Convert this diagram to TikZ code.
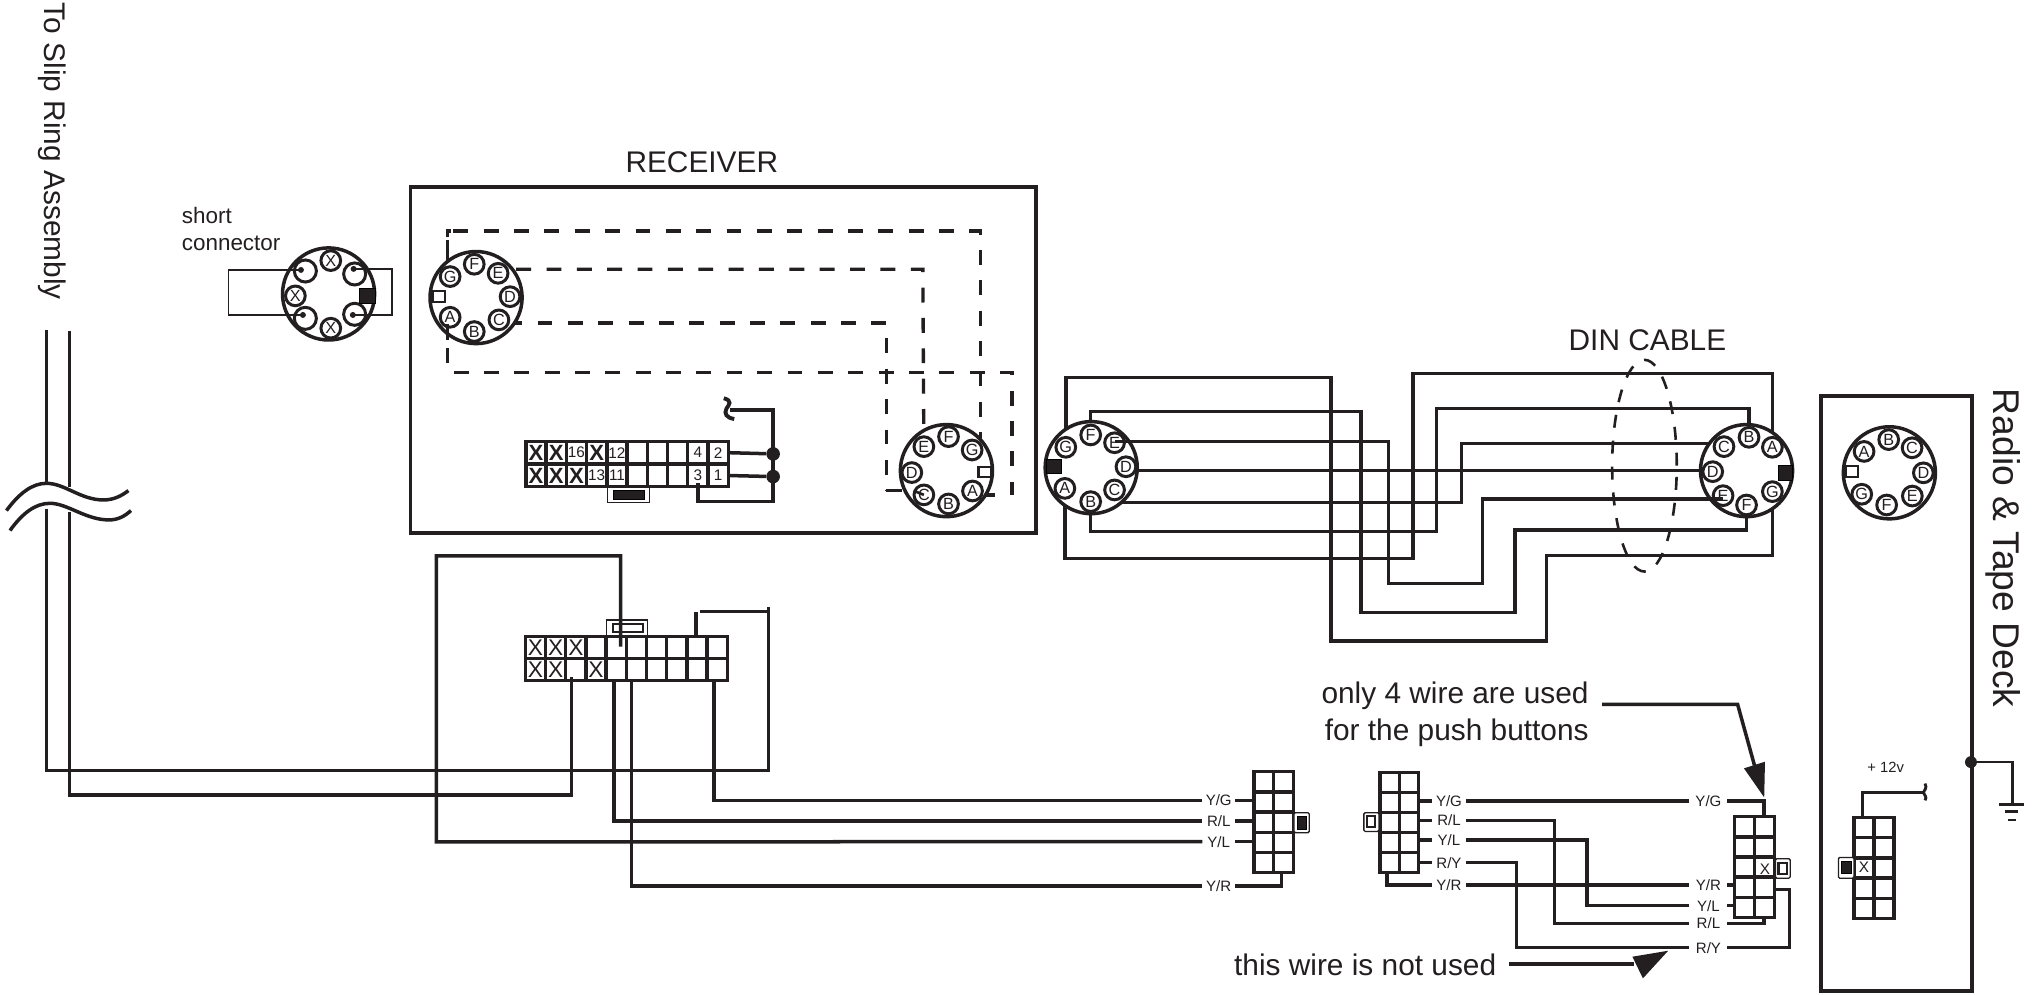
\documentclass[tikz,border=0pt]{standalone}
\usepackage{fontspec}
\setmainfont{Liberation Sans}
\usetikzlibrary{shapes.geometric,calc}
\pgfdeclarelayer{wires}
\pgfsetlayers{wires,main}
\definecolor{ink}{HTML}{231F20}
\newcommand{\fsz}[1]{\fontsize{#1}{#1}\selectfont}
\tikzset{
  wire/.style={draw=ink,line width=2.7pt,line join=miter},
  thinwire/.style={draw=ink,line width=1.2pt},
  dwire/.style={draw=ink,line width=2.6pt,dash pattern=on 11.5pt off 11.9pt},
  disc/.style={circle,draw=ink,fill=white,line width=2.7pt,minimum size=71pt,inner sep=0pt},
  pinnode/.style={circle,draw=ink,fill=white,line width=2.3pt,minimum size=15.2pt,inner sep=0pt,font=\fsz{12.5},text=ink},
  bigpin/.style={circle,draw=ink,fill=white,line width=2.3pt,minimum size=17pt,inner sep=0pt},
  dotnode/.style={circle,fill=ink,minimum size=4.6pt,inner sep=0pt},
  junction/.style={circle,fill=ink,minimum size=10.5pt,inner sep=0pt},
  gridnode/.style={rectangle,draw=ink,line width=2.6pt,inner sep=0pt},
  cellx/.style={inner sep=0pt,font=\fsz{17.5},text=ink},
  cellxb/.style={inner sep=0pt,font=\bfseries\fsz{17},text=ink},
  cellnum/.style={inner sep=0pt,font=\fsz{11.8},text=ink},
  wlabel/.style={inner sep=0pt,font=\fsz{11.6},text=ink,minimum height=8pt},
  bigtext/.style={inner sep=0pt,font=\fsz{23},text=ink},
  midtext/.style={inner sep=0pt,font=\fsz{17.3},text=ink},
  thinkey/.style={draw=ink,line width=1pt,fill=white},
  blackkey/.style={fill=ink},
  whitekey/.style={draw=ink,fill=white,line width=1.6pt},
  arrowfill/.style={fill=ink,draw=none},
}
\newcommand{\pinat}[4]{\node[pinnode] (#1) at (#2,#3) {#4};}
\newcommand{\gridbox}[7]{%
  \node[gridnode,minimum width={#4-#2},minimum height={#5-#3}] (#1) at ({(#2+#4)/2},{(#3+#5)/2}) {};
  \foreach \gi in {1,...,\numexpr#6-1\relax}
    \draw[draw=ink,line width=2.6pt] ({#2+(#4-#2)*\gi/#6},#3) -- ({#2+(#4-#2)*\gi/#6},#5);
  \foreach \gj in {1,...,\numexpr#7-1\relax}
    \draw[draw=ink,line width=2.6pt] (#2,{#3+(#5-#3)*\gj/#7}) -- (#4,{#3+(#5-#3)*\gj/#7});
}
\begin{document}
\begin{tikzpicture}[x=1pt,y=-1pt]
\useasboundingbox (0,0) rectangle (1568,767);

% ---- side texts
\node[bigtext,rotate=-90,anchor=base west] (slip) at (34.5,2) {To Slip Ring Assembly};
\node[inner sep=0pt,font=\fsz{28.7},text=ink,rotate=-90,anchor=base west] (radio) at (1537,299.5) {Radio \& Tape Deck};

% ---- slip ring wires with break
\coordinate (s1a) at (35.8,254.4); \coordinate (s1b) at (35.8,372.6);
\coordinate (s2a) at (53.7,254.8); \coordinate (s2b) at (53.7,375.5);
\coordinate (s1c) at (35.8,392);   \coordinate (s2c) at (53.7,395);
\draw[wire] (s1a) -- (s1b);
\draw[wire] (s2a) -- (s2b);
\draw[wire] (5,393.6) .. controls (15,380) and (25,372.6) .. (35.8,372.6) .. controls (50,372.6) and (62,385.4) .. (79.8,385.4) .. controls (88,385.4) and (94,382) .. (99,378.2);
\draw[wire] (7.7,409) .. controls (17,396) and (27,388) .. (38.5,388) .. controls (52,388) and (66,400.8) .. (84,400.8) .. controls (91,400.8) and (96,398) .. (101,393.6);

% ---- short connector
\node[midtext,anchor=base west] (short1) at (140,172) {short};
\node[midtext,anchor=base west] (short2) at (140,193) {connector};
\node[disc] (sD) at (253.3,226.6) {};
\node[bigpin] (sUL) at (235.4,208.9) {};
\node[bigpin] (sLL) at (235.4,245.4) {};
\node[bigpin] (sUR) at (273.4,211.2) {};
\node[bigpin] (sLR) at (273.4,242.3) {};
\pinat{sX1}{255}{200.9}{X}
\pinat{sX2}{227.7}{228.1}{X}
\pinat{sX3}{255}{253}{X}
\draw[blackkey] (276.7,222) rectangle (289,233.8);
\node[dotnode] (sd1) at (232,208.1) {};
\node[dotnode] (sd2) at (233.5,242.8) {};
\node[dotnode] (sd3) at (272.6,207.3) {};
\node[dotnode] (sd4) at (272,242.8) {};
\draw[thinwire] (sd1.center) -- (176.2,208.1) -- (176.2,242.8) -- (sd2.center);
\draw[thinwire] (sd3.center) -- (302.3,207.3) -- (302.3,242.8) -- (sd4.center);

% ---- receiver
\node[rectangle,draw=ink,line width=2.8pt,minimum width=482pt,minimum height=266.6pt,inner sep=0pt] (recv) at (557.5,277.7) {};
\node[inner sep=0pt,font=\fsz{23},text=ink] (recvt) at (541,125) {RECEIVER};

\node[disc] (aD) at (367,229.4) {};
\pinat{aG}{347}{213.2}{G}
\pinat{aF}{365.6}{203.7}{F}
\pinat{aE}{384}{210.7}{E}
\pinat{aD2}{393.2}{228.7}{D}
\pinat{aC}{384.6}{246.6}{C}
\pinat{aB}{365.6}{255.6}{B}
\pinat{aA}{347}{244.6}{A}
\draw[whitekey] (333.7,224) rectangle (342.8,232.5);

\node[disc] (bD) at (729.6,362.8) {};
\pinat{bF}{731.2}{336.6}{F}
\pinat{bG}{749.4}{346.9}{G}
\pinat{bE}{712.2}{344.3}{E}
\pinat{bD2}{702.9}{364.3}{D}
\pinat{bC}{712.2}{381.5}{C}
\pinat{bB}{731.2}{388.5}{B}
\pinat{bA}{749.7}{378.5}{A}
\draw[whitekey] (754.3,360) rectangle (764,368);

\begin{pgfonlayer}{wires}
\draw[dwire,dash phase=7.1pt] ([xshift=-2pt]aG.center) -- (345,178) -- (756,178) -- ([xshift=6.6pt]bG.center);
\draw[dwire,dash phase=23.1pt] ([xshift=-2pt]aA.center) -- (345,287) -- (780.2,287) -- (780.2,381.5);
\draw[dwire,dash phase=9.5pt] (aE.center |- 0,207.6) -- (711.4,207.6) -- (bE.center);
\draw[dwire,dash phase=17pt] (aC.center |- 0,249) -- (683.3,249) -- (683.3,378.2);
\end{pgfonlayer}
\draw[draw=ink,line width=2.6pt] (345,183) -- (345,178) -- (348,178);
\draw[draw=ink,line width=2.6pt] (345,194) -- (345,203);
\draw[draw=ink,line width=2.6pt] (345,250) -- (345,262);
\draw[draw=ink,line width=2.6pt] (683.3,378.2) -- (695,378.2);
\draw[draw=ink,line width=2pt] (706,379) -- (bC.center);
\draw[draw=ink,line width=2.6pt] (759.8,381.5) -- (766.7,381.5);

% upper multi pin
\gridbox{up}{405.4}{340.4}{561.4}{375.1}{10}{2}
\foreach \i/\t in {0/X,1/X,3/X}
  \node[cellxb] (upa\i) at ({413.2+15.6*\i},349) {\t};
\foreach \i/\t in {2/16,4/12,8/4,9/2}
  \node[cellnum] (upa\i) at ({413.2+15.6*\i},349) {\t};
\foreach \i/\t in {0/X,1/X,2/X}
  \node[cellxb] (upb\i) at ({413.2+15.6*\i},366.6) {\t};
\foreach \i/\t in {3/13,4/11,8/3,9/1}
  \node[cellnum] (upb\i) at ({413.2+15.6*\i},366.6) {\t};
\draw[thinkey] (468.5,375.6) rectangle (500.5,387.5);
\draw[blackkey] (473,377.7) rectangle (497,384.9);
\node[junction] (j1) at (596,349.9) {};
\node[junction] (j2) at (596,367.4) {};
\coordinate (sq1) at (563,316);
\coordinate (p3) at (538.2,372.5);
\draw[wire] (upa9.east -| up.east) -- (j1);
\draw[wire] (upb9.east -| up.east) -- (j2);
\draw[wire] (sq1) -- (596,316) -- (596,386.7) -- (538.2,386.7) -- (p3);
\draw[draw=ink,line width=3pt] (558,307) .. controls (565,309) and (562,312) .. (560,315) .. controls (558,319) and (560,322) .. (566,323);

% ---- lower multi pin
\draw[thinkey] (467.6,478) rectangle (499.2,490.8);
\draw[whitekey] (472.2,481) rectangle (495.4,487.4);
\gridbox{lo}{405}{490.8}{560.6}{524.7}{10}{2}
\foreach \i in {0,1,2}
  \node[cellx] (loa\i) at ({412.8+15.56*\i},499.4) {X};
\foreach \i in {0,1,3}
  \node[cellx] (lob\i) at ({412.8+15.56*\i},516.2) {X};
\coordinate (w1) at (478.4,498.5);
\coordinate (w2) at (536.5,490.8);
\coordinate (w3) at (440.4,522);
\coordinate (w4) at (473.5,524.7);
\coordinate (w5) at (486.9,524.7);
\coordinate (w6) at (550.6,524.7);
\draw[wire] (s1c) -- (35.8,594) -- (592.5,594) -- (592.5,467.6);
\draw[wire] (s2c) -- (53.7,613) -- (440.4,613) -- (w3);
\draw[wire] (w2) -- (536.5,472);
\draw[wire] (539.5,471.5) -- (592.5,471.5);

% ---- left plug of the harness
\gridbox{g1}{966.6}{594.9}{997}{672.7}{2}{5}
\draw[thinkey,rounded corners=1pt] (997.5,626.5) rectangle (1009.3,641.9);
\draw[blackkey] (1000,629.6) rectangle (1007.2,639);
\node[wlabel,minimum width=25pt] (l1G) at (939.5,617) {Y/G};
\node[wlabel,minimum width=25pt] (l1R) at (939.5,633) {R/L};
\node[wlabel,minimum width=25pt] (l1L) at (939.5,648.8) {Y/L};
\node[wlabel,minimum width=25pt] (l1Y) at (939.5,683) {Y/R};
\coordinate (g1a) at (966.6,617);
\coordinate (g1b) at (965,633);
\coordinate (g1c) at (965,648.8);
\coordinate (g1d) at (988,672.7);
\draw[wire] (l1G.east) -- (g1a);
\draw[wire] (l1R.east) -- (g1b);
\draw[wire] (l1L.east) -- (g1c);
\draw[wire] (l1Y.east) -- (988,683) -- (g1d);
\draw[wire] (w6) |- (l1G.west);
\draw[wire] (w4) |- (l1R.west);
\draw[wire] (w5) |- (l1Y.west);
\draw[wire] (w1) -- (478.4,428.5) -- (336.3,428.5) -- (336.3,649) -- (l1L.west);

% ---- mating plug
\gridbox{g2}{1063.7}{595.4}{1093.6}{672.5}{2}{5}
\draw[thinkey,rounded corners=1pt] (1051.4,626.5) rectangle (1063,641);
\draw[whitekey] (1054,629) rectangle (1059.8,637.3);
\node[wlabel,minimum width=26pt] (l2G) at (1117,617.5) {Y/G};
\node[wlabel,minimum width=26pt] (l2R) at (1117,632.6) {R/L};
\node[wlabel,minimum width=26pt] (l2L) at (1117,647.5) {Y/L};
\node[wlabel,minimum width=26pt] (l2P) at (1117,665) {R/Y};
\node[wlabel,minimum width=26pt] (l2Y) at (1117,682.4) {Y/R};
\coordinate (g2d) at (1069.2,672.5);
\draw[wire] (g2.east |- l2G) -- (l2G.west);
\draw[wire] (g2.east |- l2R) -- (l2R.west);
\draw[wire] (g2.east |- l2L) -- (l2L.west);
\draw[wire] (g2.east |- l2P) -- (l2P.west);
\draw[wire] (g2d) |- (l2Y.west);

% ---- right plug
\gridbox{g3}{1337.3}{629.6}{1367.7}{707.2}{2}{5}
\node[cellnum] (g3x) at (1360.5,669.8) {X};
\draw[thinkey,rounded corners=1pt] (1368.7,662) rectangle (1380,677);
\draw[whitekey] (1371,665.5) rectangle (1377.5,673.8);
\node[wlabel,minimum width=29pt] (l3G) at (1317,617.5) {Y/G};
\node[wlabel,minimum width=29pt] (l3Y) at (1317,682.4) {Y/R};
\node[wlabel,minimum width=29pt] (l3L) at (1317,698.2) {Y/L};
\node[wlabel,minimum width=29pt] (l3R) at (1317,711.8) {R/L};
\node[wlabel,minimum width=29pt] (l3P) at (1317,730.6) {R/Y};
\coordinate (g3t) at (1360,629.6);
\coordinate (g3b) at (1360,707.2);
\coordinate (g3r) at (1367.8,685.6);
\draw[wire] (l2G.east) -- (l3G.west);
\draw[wire] (l2R.east) -- (1198.4,632.6) -- (1198.4,711.8) -- (l3R.west);
\draw[wire] (l2L.east) -- (1223.4,647.5) -- (1223.4,698.2) -- (l3L.west);
\draw[wire] (l2P.east) -- (1169.2,665) -- (1169.2,730.6) -- (l3P.west);
\draw[wire] (l2Y.east) -- (l3Y.west);
\draw[wire] (l3G.east) -- (1360,617.5) -- (g3t);
\draw[wire] (l3R.east) -- (1360,711.8) -- (g3b);
\draw[wire] (l3L.east) -- (g3.west |- l3L);
\draw[wire] (l3Y.east) -- (g3.west |- l3Y);
\draw[wire] (l3P.east) -- (1379.4,730.6) -- (1379.4,685.6) -- (g3r);

% ---- notes and their arrows
\node[bigtext,anchor=east] (noteA) at (1224.8,536) {only 4 wire are used};
\node[bigtext,anchor=east] (noteB) at (1224.8,564.8) {for the push buttons};
\node[bigtext,anchor=east] (noteC) at (1153.6,744.1) {this wire is not used};
\coordinate (a1) at (1235,543);
\coordinate (a2) at (1352.5,590);
\coordinate (c1) at (1163.4,743);
\coordinate (c2) at (1260,743);
\draw[wire] (a1) -- (1339.5,543) -- (a2);
\fill[arrowfill] (1344.4,592.3) -- (1360.6,587.2) -- (1360,614.7) -- cycle;
\draw[wire] (c1) -- (c2);
\fill[arrowfill] (1258.4,737.5) -- (1286,732.9) -- (1266.5,754.2) -- cycle;

% ---- DIN cable
\node[disc] (lD) at (841.2,360.5) {};
\pinat{lG}{821.6}{344.8}{G}
\pinat{lF}{840.8}{335.3}{F}
\pinat{lE}{859.2}{341.3}{E}
\pinat{lD2}{868}{359.8}{D}
\pinat{lC}{859.2}{377.7}{C}
\pinat{lB}{840.8}{386.7}{B}
\pinat{lA}{820.9}{376.5}{A}
\draw[blackkey] (806.3,354) rectangle (817.8,365);

\node[disc] (qD) at (1346.4,362.8) {};
\pinat{qC}{1329}{344.3}{C}
\pinat{qB}{1348.3}{337.1}{B}
\pinat{qA}{1366.3}{344.8}{A}
\pinat{qD2}{1320.3}{363.6}{D}
\pinat{qE}{1328.3}{382.1}{E}
\pinat{qF}{1346.4}{389.3}{F}
\pinat{qG}{1366.3}{379}{G}
\draw[blackkey] (1370.5,358.5) rectangle (1382,370);

\begin{pgfonlayer}{wires}
\draw[wire] (lG.center) |- (1026,290.9) -- (1026,494.1) -- (1192.2,494.1) -- (1192.2,428.4) -| (qG.center);
\draw[wire] (lF.center) |- (1049,317.4) -- (1049,472) -- (1168,472) -- (1168,408.6) -| (qF.center);
\draw[wire] (lC.center) |- (1126.6,387.5) -- (1126.6,341.8) -- (qC.center |- 0,341.8);
\draw[wire] (lB.center) |- (1107.4,409.9) -- (1107.4,314.8) -| (qB.center);
\draw[wire] (lA.center) |- (1089.4,430.4) -- (1089.4,287.8) -| (qA.center);
\end{pgfonlayer}
\draw[wire] (lD2.east |- 0,362.8) -- (qD2.west |- 0,362.8);
\draw[wire] (lE.center |- 0,340.5) -- (1070.2,340.5) -- (1070.2,449.7) -- (1143,449.7) -- (1143,384.7) -- (qE.center |- 0,384.7);

\node[ellipse,draw=ink,line width=2pt,dash pattern=on 10pt off 10pt,minimum width=49.8pt,minimum height=163.2pt,inner sep=0pt] (din) at (1267.7,359) {};
\node[inner sep=0pt,font=\fsz{23},text=ink] (dint) at (1270,262.5) {DIN CABLE};

% ---- radio and tape deck
\node[rectangle,draw=ink,line width=3pt,minimum width=116.5pt,minimum height=458.5pt,inner sep=0pt] (deck) at (1461.75,534.55) {};
\node[disc] (rD) at (1456.5,364.5) {};
\pinat{rA}{1437}{348}{A}
\pinat{rB}{1456}{338.9}{B}
\pinat{rC}{1474}{345.2}{C}
\pinat{rD2}{1482.7}{364.5}{D}
\pinat{rE}{1474.2}{382.4}{E}
\pinat{rF}{1454.4}{389.3}{F}
\pinat{rG}{1435.2}{381}{G}
\draw[whitekey] (1423,359) rectangle (1432.6,367.8);

\gridbox{g4}{1429.2}{630.2}{1460}{708.1}{2}{5}
\node[cellnum] (g4x) at (1437,668.7) {X};
\draw[thinkey,rounded corners=1pt] (1417.2,661) rectangle (1429.2,677);
\draw[blackkey] (1419.2,663.8) rectangle (1427,673.4);
\node[inner sep=0pt,font=\fsz{11.4},text=ink] (p12) at (1453.6,591.6) {+ 12v};
\coordinate (g4t) at (1435.7,630.2);
\coordinate (g4e) at (1483,610.9);
\draw[draw=ink,line width=2.2pt] (g4t) -- (1435.7,610.9) -- (g4e);
\draw[draw=ink,line width=2.2pt] (1484,604) .. controls (1486,608) and (1483,609) .. (1482.7,611) .. controls (1483,613) and (1486,614) .. (1484,617);

% ---- ground
\node[circle,fill=ink,minimum size=9.2pt,inner sep=0pt] (gj) at (1519.4,587.5) {};
\coordinate (gnd) at (1551.3,620);
\draw[draw=ink,line width=2pt] (gj) -| (gnd);
\draw[draw=ink,line width=2pt] (1541.3,620) -- (1560.3,620);
\draw[draw=ink,line width=2pt] (1545.6,625.5) -- (1555.9,625.5);
\draw[draw=ink,line width=2pt] (1548.2,632.1) -- (1553.9,632.1);
\end{tikzpicture}
\end{document}
